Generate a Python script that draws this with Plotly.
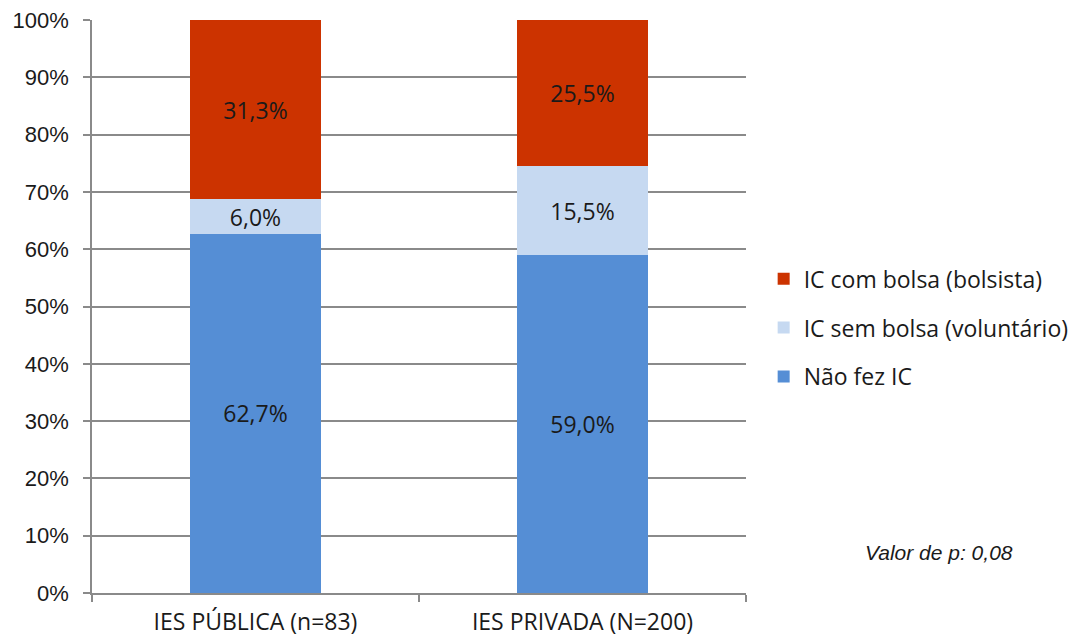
import plotly.graph_objects as go

categories = ["IES PÚBLICA (n=83)", "IES PRIVADA (N=200)"]
series_names = ["Não fez IC", "IC sem bolsa (voluntário)", "IC com bolsa (bolsista)"]
nao_fez = [62.7, 59.0]
sem_bolsa = [6.0, 15.5]
com_bolsa = [31.3, 25.5]
colors = ["#558ED5", "#C6D9F1", "#CC3300"]
legend_ranks = [3, 2, 1]
y_ticks = [0, 10, 20, 30, 40, 50, 60, 70, 80, 90, 100]
y_tick_labels = [f"{t}%" for t in y_ticks]
note = "Valor de p: 0,08"

def fmt(v):
    return f"{v:.1f}".replace(".", ",") + "%"

fig = go.Figure()
for name, vals, col, rank in zip(series_names, [nao_fez, sem_bolsa, com_bolsa], colors, legend_ranks):
    fig.add_trace(go.Bar(
        x=categories, y=vals, name=name, marker=dict(color=col, line=dict(width=0)),
        text=[fmt(v) for v in vals], textposition="inside", insidetextanchor="middle",
        constraintext="none",
        textfont=dict(family="Open Sans", size=23, color="#1a1a1a"),
        legendgroup=name, legendrank=rank, width=0.4, hoverinfo="skip",
    ))

fig.update_layout(
    barmode="stack",
    width=1081, height=639,
    margin=dict(l=92, r=335, t=20, b=46, autoexpand=False),
    paper_bgcolor="white", plot_bgcolor="white",
    showlegend=True,
    legend=dict(
        x=1.027, y=0.463, xanchor="left", yanchor="middle",
        traceorder="grouped", tracegroupgap=16,
        font=dict(family="Open Sans", size=23, color="#1a1a1a"),
        itemwidth=30,
    ),
    annotations=[dict(
        text="<i>" + note + "</i>", xref="paper", yref="paper", x=1.295, y=0.07,
        xanchor="center", yanchor="middle", showarrow=False,
        font=dict(family="Liberation Sans", size=21, color="#1a1a1a"),
    )],
)

fig.update_yaxes(
    range=[0, 100], tickvals=y_ticks, ticktext=y_tick_labels,
    showgrid=True, gridcolor="#8a8a8a", gridwidth=1.5,
    showline=True, linecolor="#8a8a8a", linewidth=1.5,
    ticks="outside", ticklen=7, tickcolor="#8a8a8a", tickwidth=1.5,
    tickfont=dict(family="Liberation Sans", size=22, color="#1a1a1a"),
    ticklabelstandoff=10, automargin=False,
    zeroline=False, fixedrange=True,
)
fig.update_xaxes(
    showline=True, linecolor="#8a8a8a", linewidth=1.5,
    ticks="outside", tickson="boundaries", ticklen=7, tickcolor="#8a8a8a", tickwidth=1.5,
    tickfont=dict(family="Open Sans", size=23, color="#1a1a1a"),
    ticklabelstandoff=8, automargin=False,
    fixedrange=True,
)

fig.write_html("out.html")
